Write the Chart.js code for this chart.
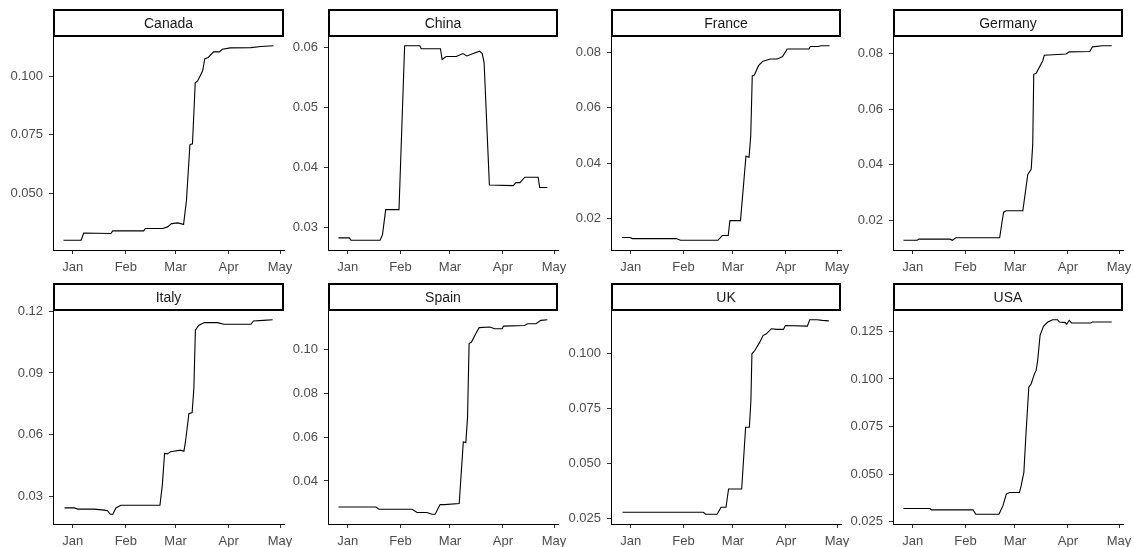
<!DOCTYPE html>
<html>
<head>
<meta charset="utf-8">
<script src="https://cdn.jsdelivr.net/npm/chart.js@4.4.0/dist/chart.umd.min.js"></script>
<style>
  body { margin: 0; background: #fff; width: 1134px; height: 547px; overflow: hidden; position: relative; }
  canvas { position: absolute; }
</style>
</head>
<body>
<script>
// Days counted from 1 Jan 2020
const canadaDays = [-5.4, 4.9, 6.4, 22.3, 23.3, 41.4, 42.4, 52.5, 55.4, 57.7, 61.2, 63.1, 64.7, 66.4, 68.4, 69.9, 71.5, 72.9, 75.8, 77.1, 79.1, 82.2, 85.5, 87.4, 91.9, 104, 109.8, 117.2];
const canadaVals = [0.030, 0.030, 0.0331, 0.0329, 0.0340, 0.0340, 0.0350, 0.0350, 0.0357, 0.0371, 0.0374, 0.0371, 0.0367, 0.0471, 0.0707, 0.0711, 0.0971, 0.0979, 0.1021, 0.1074, 0.1079, 0.1103, 0.1103, 0.1114, 0.1120, 0.1121, 0.1126, 0.1129];

const chinaDays = [-5.4, 1.0, 1.9, 19.0, 20.4, 22.3, 30.1, 33.4, 42.3, 43.1, 54.4, 55.4, 57.7, 63.7, 67.6, 69.9, 77.3, 78.9, 80.0, 83.1, 97.1, 98.7, 101, 103.9, 111.7, 112.6, 117.1];
const chinaVals = [0.0283, 0.0283, 0.0279, 0.0279, 0.0288, 0.0330, 0.0330, 0.0603, 0.0603, 0.0598, 0.0598, 0.0580, 0.0585, 0.0585, 0.0590, 0.0586, 0.0594, 0.0590, 0.0575, 0.0371, 0.0370, 0.0375, 0.0375, 0.0384, 0.0384, 0.0367, 0.0367];

const franceDays = [-5.2, -0.4, 1.0, 26.7, 29.2, 51.2, 53.7, 57.2, 58.2, 64.4, 67.6, 69.4, 70.4, 71.3, 72.5, 75.0, 77.3, 81.8, 86, 89.1, 91.8, 104.6, 105.3, 109.8, 111.7, 116.6];
const franceVals = [0.0131, 0.0131, 0.0127, 0.0127, 0.0121, 0.0121, 0.0138, 0.0138, 0.0192, 0.0192, 0.0425, 0.0421, 0.0498, 0.0715, 0.0718, 0.0752, 0.0767, 0.0776, 0.0776, 0.0785, 0.0812, 0.0812, 0.0821, 0.0821, 0.0824, 0.0824];

const germanyDays = [-5.4, 2.7, 3.7, 21.8, 23.3, 25.3, 51.0, 53.3, 54.9, 64.6, 67.5, 69.5, 70.4, 71.0, 72.4, 76.3, 77.2, 89.9, 91.8, 103.9, 105.4, 111.3, 116.7];
const germanyVals = [0.0128, 0.0128, 0.0132, 0.0132, 0.0128, 0.0137, 0.0137, 0.0229, 0.0234, 0.0234, 0.0365, 0.0383, 0.0473, 0.0725, 0.0729, 0.0774, 0.0794, 0.0798, 0.0806, 0.0807, 0.0824, 0.0828, 0.0828];

const italyDays = [-4.8, 1.0, 2.9, 12.6, 18.4, 20.3, 21.9, 23.4, 25.2, 28.1, 50.9, 52.3, 53.6, 55.2, 57.1, 62.9, 64.9, 65.8, 67.8, 69.7, 70.7, 71.6, 73.6, 76.9, 84.6, 88.1, 104.0, 105.5, 111.3, 116.7];
const italyVals = [0.0243, 0.0243, 0.0237, 0.0237, 0.0232, 0.0229, 0.0212, 0.0212, 0.0243, 0.0256, 0.0256, 0.0354, 0.0508, 0.0506, 0.0516, 0.0524, 0.0519, 0.0564, 0.0702, 0.0707, 0.0824, 0.1108, 0.1132, 0.1145, 0.1145, 0.1137, 0.1137, 0.1153, 0.1156, 0.1159];

const spainDays = [-5.4, 16.5, 18.4, 37.8, 40.7, 46.5, 49.4, 51.3, 54.2, 56.7, 65.4, 67.8, 69.3, 70.3, 71.2, 72.6, 75.1, 77.1, 83.3, 86.2, 90.6, 91.4, 103.6, 105.5, 110.4, 113.3, 117.1];
const spainVals = [0.0281, 0.0281, 0.0271, 0.0271, 0.0256, 0.0256, 0.0248, 0.0248, 0.0292, 0.0292, 0.0297, 0.0578, 0.0575, 0.0692, 0.1026, 0.1033, 0.1071, 0.1099, 0.1102, 0.1094, 0.1094, 0.1106, 0.1109, 0.1117, 0.1117, 0.1132, 0.1135];

const ukDays = [-4.8, 42.6, 43.9, 50.7, 53.0, 55.9, 57.4, 65.1, 67.4, 69.6, 70.5, 71.1, 72.8, 75.7, 77.6, 79.6, 82.5, 85.7, 89.6, 90.7, 103.6, 105.0, 109.4, 112.3, 116.2];
const ukVals = [0.0276, 0.0276, 0.0267, 0.0267, 0.0299, 0.0299, 0.0382, 0.0382, 0.0663, 0.0663, 0.0784, 0.0997, 0.1012, 0.1050, 0.1080, 0.1088, 0.1111, 0.1108, 0.1108, 0.1126, 0.1123, 0.1152, 0.1152, 0.1149, 0.1147];

const usaDays = [-5.4, 10.1, 11.1, 35.4, 37.0, 50.6, 52.9, 54.9, 56.8, 62.6, 63.6, 65.2, 66.5, 68.1, 69.5, 71.4, 72.4, 73.3, 74.7, 76.7, 79.2, 82.1, 85.0, 86.0, 89.5, 90.3, 91.8, 93.2, 104.5, 105.4, 116.7];
const usaVals = [0.0320, 0.0320, 0.0313, 0.0313, 0.0290, 0.0290, 0.0334, 0.0396, 0.0404, 0.0404, 0.0439, 0.0510, 0.0720, 0.0957, 0.0975, 0.1027, 0.1045, 0.1097, 0.1229, 0.1276, 0.1299, 0.1311, 0.1311, 0.1299, 0.1296, 0.1287, 0.1308, 0.1294, 0.1294, 0.1299, 0.1299];

// Tick positions and labels
const monthTicks = [0, 31, 60, 91, 121];
const monthLabels = ['Jan', 'Feb', 'Mar', 'Apr', 'May'];
const canadaTicks = [0.050, 0.075, 0.100];
const chinaTicks = [0.03, 0.04, 0.05, 0.06];
const franceTicks = [0.02, 0.04, 0.06, 0.08];
const germanyTicks = [0.02, 0.04, 0.06, 0.08];
const italyTicks = [0.03, 0.06, 0.09, 0.12];
const spainTicks = [0.04, 0.06, 0.08, 0.10];
const ukTicks = [0.025, 0.050, 0.075, 0.100];
const usaTicks = [0.025, 0.050, 0.075, 0.100, 0.125];

const panels = [
  { name: 'Canada', days: canadaDays, vals: canadaVals, ticks: canadaTicks, dec: 3 },
  { name: 'China', days: chinaDays, vals: chinaVals, ticks: chinaTicks, dec: 2 },
  { name: 'France', days: franceDays, vals: franceVals, ticks: franceTicks, dec: 2 },
  { name: 'Germany', days: germanyDays, vals: germanyVals, ticks: germanyTicks, dec: 2 },
  { name: 'Italy', days: italyDays, vals: italyVals, ticks: italyTicks, dec: 2 },
  { name: 'Spain', days: spainDays, vals: spainVals, ticks: spainTicks, dec: 2 },
  { name: 'UK', days: ukDays, vals: ukVals, ticks: ukTicks, dec: 3 },
  { name: 'USA', days: usaDays, vals: usaVals, ticks: usaTicks, dec: 3 }
];

// Layout (page pixels): plot-area left/right per column, strip top and plot bottom per row
const colLeft = [53, 328, 611, 893];
const colRight = [284, 558, 841, 1123];
const rowTop = [9, 283];
const rowBottom = [250, 524];
const yAxisW = 45, xAxisH = 30, padRight = 20;

const FONT = '"Liberation Sans", Arial, sans-serif';

// shared x range, ggplot-style 5% expansion
const allDays = panels.flatMap(p => p.days);
const dMin = Math.min(...allDays), dMax = Math.max(...allDays);
const xMin = dMin - (dMax - dMin) * 0.05;
const xMax = dMax + (dMax - dMin) * 0.05;

// strip box round the title
const stripBox = {
  id: 'stripBox',
  afterDraw(chart) {
    const ca = chart.chartArea;
    const ctx = chart.ctx;
    ctx.save();
    ctx.strokeStyle = '#000';
    ctx.lineWidth = 2;
    ctx.strokeRect(ca.left + 1, 3, ca.right - ca.left - 2, ca.top - 3);
    ctx.restore();
  }
};

panels.forEach((p, i) => {
  const col = i % 4, row = Math.floor(i / 4);
  const canvas = document.createElement('canvas');
  const left = colLeft[col] - yAxisW;
  const top = rowTop[row] - 2;
  const w = colRight[col] - colLeft[col] + yAxisW + padRight;
  const h = rowBottom[row] - top + xAxisH;
  canvas.width = w;
  canvas.height = h;
  canvas.style.left = left + 'px';
  canvas.style.top = top + 'px';
  canvas.style.width = w + 'px';
  canvas.style.height = h + 'px';
  document.body.appendChild(canvas);

  const vMin = Math.min(...p.vals), vMax = Math.max(...p.vals);
  const yMin = vMin - (vMax - vMin) * 0.05;
  const yMax = vMax + (vMax - vMin) * 0.05;

  new Chart(canvas.getContext('2d'), {
    type: 'line',
    data: {
      datasets: [{
        data: p.days.map((d, k) => ({ x: d, y: p.vals[k] })),
        borderColor: '#000',
        borderWidth: 1.1,
        pointRadius: 0,
        tension: 0,
        fill: false
      }]
    },
    options: {
      responsive: false,
      animation: false,
      devicePixelRatio: 1,
      layout: { padding: { left: 0, right: padRight, top: 2, bottom: 0 } },
      plugins: {
        legend: { display: false },
        tooltip: { enabled: false },
        title: {
          display: true,
          text: p.name,
          fullSize: false,
          color: '#1A1A1A',
          font: { family: FONT, size: 14, weight: 'normal', lineHeight: '17px' },
          padding: { top: 7, bottom: 3 }
        }
      },
      scales: {
        x: {
          type: 'linear',
          min: xMin,
          max: xMax,
          bounds: 'data',
          afterFit: s => { s.height = xAxisH; },
          afterBuildTicks: s => { s.ticks = monthTicks.map(v => ({ value: v })); },
          ticks: {
            callback: v => monthLabels[monthTicks.indexOf(v)],
            color: '#4D4D4D',
            font: { family: FONT, size: 13 },
            padding: 6,
            maxRotation: 0,
            autoSkip: false
          },
          grid: { drawOnChartArea: false, drawTicks: true, tickLength: 4, tickColor: '#333333' },
          border: { display: true, color: '#000', width: 1 }
        },
        y: {
          type: 'linear',
          min: yMin,
          max: yMax,
          bounds: 'data',
          afterFit: s => { s.width = yAxisW; },
          afterBuildTicks: s => { s.ticks = p.ticks.map(v => ({ value: v })); },
          ticks: {
            callback: v => v.toFixed(p.dec),
            color: '#4D4D4D',
            font: { family: FONT, size: 13 },
            padding: 6,
            autoSkip: false
          },
          grid: { drawOnChartArea: false, drawTicks: true, tickLength: 4, tickColor: '#333333' },
          border: { display: true, color: '#000', width: 1 }
        }
      }
    },
    plugins: [stripBox]
  });
});
</script>
</body>
</html>
